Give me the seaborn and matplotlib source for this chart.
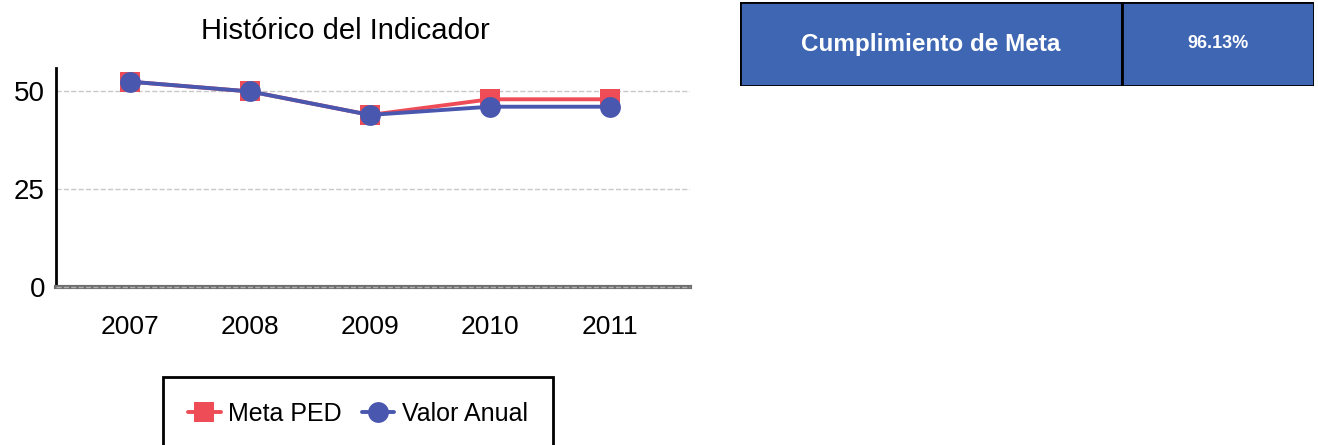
import pandas as pd
import matplotlib.pyplot as plt
import seaborn as sns
from matplotlib.patches import Rectangle

anios = [2007, 2008, 2009, 2010, 2011]
meta_ped = [52.5, 50.0, 44.0, 48.0, 48.0]
valor_anual = [52.5, 50.0, 44.0, 46.1, 46.1]
series = ["Meta PED", "Valor Anual"]
colores = {"Meta PED": "#EE4D57", "Valor Anual": "#4A57AE"}
marcadores = {"Meta PED": "s", "Valor Anual": "o"}
etiqueta_meta = "Cumplimiento de Meta"
cumplimiento = "96.13%"

sns.set_theme(style="white")
plt.rcParams["font.family"] = ["Liberation Sans Narrow", "Liberation Sans", "DejaVu Sans"]
plt.rcParams["text.color"] = "black"
plt.rcParams["xtick.color"] = "black"
plt.rcParams["ytick.color"] = "black"

df = pd.DataFrame({
    "anio": anios * 2,
    "valor": meta_ped + valor_anual,
    "serie": [series[0]] * len(anios) + [series[1]] * len(anios),
})

fig = plt.figure(figsize=(13.18, 4.45), dpi=100)
ax = fig.add_axes([56 / 1318, 1 - 287 / 445, 634 / 1318, 219 / 445])

sns.lineplot(data=df, x="anio", y="valor", hue="serie", style="serie",
             palette=colores, markers=marcadores, dashes=False,
             markersize=15, linewidth=2.8, markeredgewidth=0, ax=ax)

ax.set_xlim(2006.38, 2011.67)
ax.set_ylim(0, 56)
ax.set_xticks(anios)
ax.set_xticklabels([str(a) for a in anios])
ax.set_yticks([0, 25, 50])
ax.tick_params(axis="x", labelsize=19, length=0, pad=20)
ax.tick_params(axis="y", labelsize=20, length=0, pad=8)
ax.set_xlabel("")
ax.set_ylabel("")
for y in [25, 50]:
    ax.axhline(y, color="#c8c8c8", lw=1, ls="--", zorder=0)
for lado in ["top", "right"]:
    ax.spines[lado].set_visible(False)
ax.spines["left"].set_color("black")
ax.spines["left"].set_linewidth(2)
ax.spines["bottom"].set_color("#6e6e6e")
ax.spines["bottom"].set_linewidth(3)
ax.axhline(0, color="#b0b0b0", lw=1, ls="--", zorder=5, clip_on=False)

fig.text(345 / 1318, 1 - 31 / 445, "Histórico del Indicador", ha="center",
         va="center", fontsize=21)

handles, labels = ax.get_legend_handles_labels()
ax.get_legend().remove()
leg = fig.legend(handles, labels, loc="upper left", ncol=2,
                 bbox_to_anchor=(163 / 1318, 1 - 377 / 445), borderaxespad=0,
                 fontsize=18, frameon=True, fancybox=False, framealpha=1,
                 handlelength=1.3, handletextpad=0.3, columnspacing=0.8,
                 borderpad=1.0)
leg.get_frame().set_edgecolor("black")
leg.get_frame().set_linewidth(2)

# tabla de cumplimiento
tx = fig.add_axes([740 / 1318, 1 - 86 / 445, 574 / 1318, 84 / 445])
tx.set_xlim(0, 574)
tx.set_ylim(0, 84)
tx.axis("off")
tx.add_patch(Rectangle((0, 0), 382, 84, facecolor="#3F66B3", edgecolor="black", lw=2))
tx.add_patch(Rectangle((382, 0), 192, 84, facecolor="#3F66B3", edgecolor="black", lw=2))
tx.text(191, 42, etiqueta_meta, color="white", fontsize=17.5, fontweight="bold",
        ha="center", va="center")
tx.text(478, 42, cumplimiento, color="white", fontsize=13, fontweight="bold",
        ha="center", va="center")

fig.savefig("out.png", dpi=100)
